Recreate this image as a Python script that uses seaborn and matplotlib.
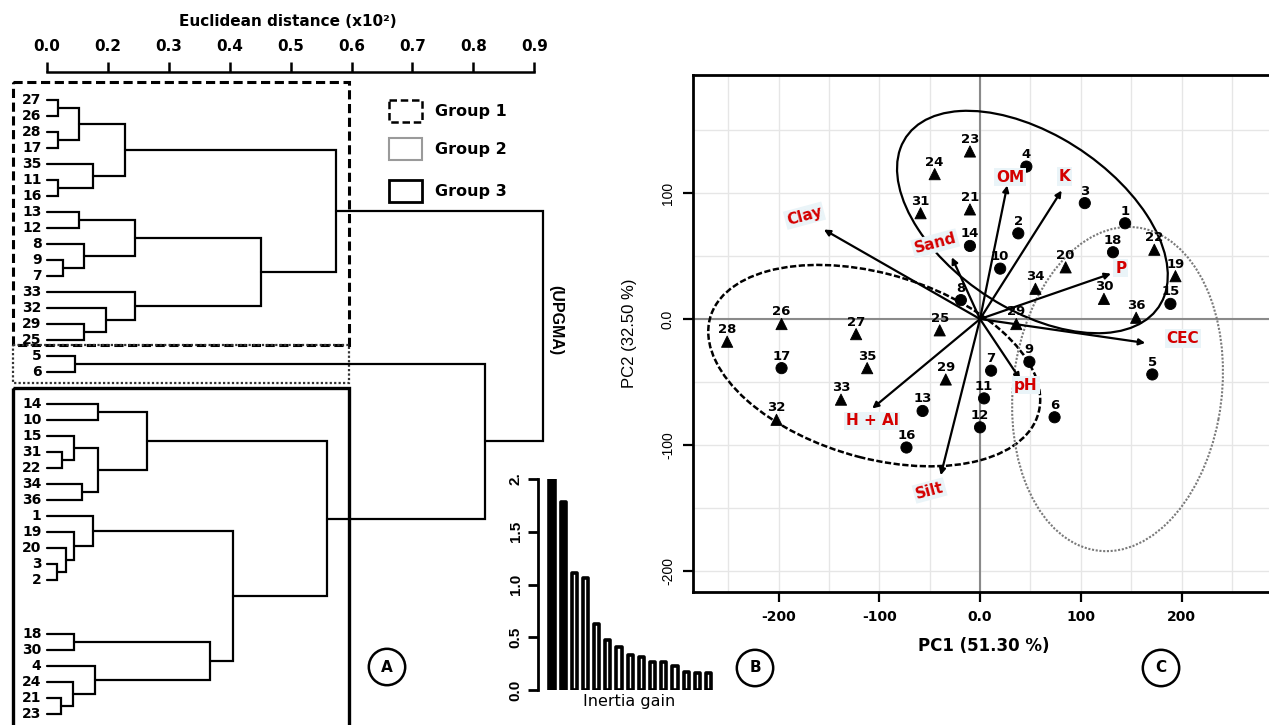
import numpy as np
import pandas as pd
import matplotlib
matplotlib.use("Agg")
import matplotlib.pyplot as plt
from matplotlib.patches import Rectangle, Ellipse
from matplotlib.ticker import MultipleLocator
import seaborn as sns

sns.set_theme(style="white")
plt.rcParams['font.family'] = ['DejaVu Sans']
for key in ['text.color', 'axes.labelcolor', 'xtick.color', 'ytick.color']:
    plt.rcParams[key] = 'black'
NARROW = 'Liberation Sans'   # rotated labels look narrower in the source figure

# ---------------- A: UPGMA dendrogram ----------------
leaf_order = ['27', '26', '28', '17', '35', '11', '16', '13', '12', '8', '9', '7',
              '33', '32', '29', '25',
              '5', '6',
              '14', '10', '15', '31', '22', '34', '36', '1', '19', '20', '3', '2',
              '18', '30', '4', '24', '21', '23']
# (node, child a, child b, height in axis-tick units)
merges = [
    ('m1', '27', '26', 0.18), ('m2', '28', '17', 0.18), ('m3', 'm1', 'm2', 0.53),
    ('m4', '11', '16', 0.18), ('m5', '35', 'm4', 0.75), ('m6', 'm3', 'm5', 1.28),
    ('m7', '13', '12', 0.53), ('m8', '9', '7', 0.26), ('m9', '8', 'm8', 0.61),
    ('m10', 'm7', 'm9', 1.44), ('m11', '29', '25', 0.60), ('m12', '32', 'm11', 0.97),
    ('m13', '33', 'm12', 1.44), ('m14', 'm10', 'm13', 3.51), ('g1', 'm6', 'm14', 4.75),
    ('g2', '5', '6', 0.46),
    ('m15', '14', '10', 0.84), ('m16', '31', '22', 0.24), ('m17', '15', 'm16', 0.45),
    ('m18', '34', '36', 0.57), ('m19', 'm17', 'm18', 0.83), ('m20', 'm15', 'm19', 1.65),
    ('m21', '3', '2', 0.16), ('m22', '20', 'm21', 0.32), ('m23', '19', 'm22', 0.44),
    ('m24', '1', 'm23', 0.75), ('m25', '18', '30', 0.45), ('m26', '21', '23', 0.23),
    ('m27', '24', 'm26', 0.42), ('m28', '4', 'm27', 0.79), ('m29', 'm25', 'm28', 2.68),
    ('m30', 'm24', 'm29', 3.05), ('g3', 'm20', 'm30', 4.60),
    ('g23', 'g2', 'g3', 7.19), ('root', 'g1', 'g23', 8.14),
]
dist_tick_labels = ['0.0', '0.2', '0.3', '0.4', '0.5', '0.6', '0.7', '0.8', '0.9']
group_names = ['Group 1', 'Group 2', 'Group 3']

# ---------------- B: inertia gain ----------------
inertia_gain = [2.0, 1.78, 1.11, 1.06, 0.63, 0.47, 0.41, 0.33, 0.31, 0.27,
                0.27, 0.23, 0.17, 0.16, 0.16]

# ---------------- C: PCA biplot ----------------
sample_id = ['23', '24', '31', '21', '14', '8', '26', '28', '27', '25', '17', '35',
             '29', '33', '13', '32', '16', '4', '3', '2', '1', '18', '22', '10',
             '20', '19', '34', '30', '15', '36', '29', '9', '7', '5', '11', '6', '12']
pc1 = [-10, -45, -59, -10, -10, -19, -197, -251, -123, -40, -197, -112,
       -34, -138, -57, -202, -73, 46, 104, 38, 144, 132, 173, 20,
       85, 194, 55, 123, 189, 155, 36, 49, 11, 171, 4, 74, 0]
pc2 = [133, 115, 84, 87, 58, 15, -4, -18, -12, -9, -39, -39,
       -48, -64, -73, -80, -102, 121, 92, 68, 76, 53, 55, 40,
       41, 34, 24, 16, 12, 1, -4, -34, -41, -44, -63, -78, -86]
sample_shape = ['tri', 'tri', 'tri', 'tri', 'circ', 'circ', 'tri', 'tri', 'tri', 'tri', 'circ', 'tri',
                'tri', 'tri', 'circ', 'tri', 'circ', 'circ', 'circ', 'circ', 'circ', 'circ', 'tri', 'circ',
                'tri', 'tri', 'tri', 'tri', 'circ', 'tri', 'tri', 'circ', 'circ', 'circ', 'circ', 'circ', 'circ']

variables = ['Clay', 'Sand', 'H + Al', 'Silt', 'OM', 'K', 'P', 'CEC', 'pH']
load_pc1 = [-155, -28, -107, -39, 27, 81, 130, 164, 40]
load_pc2 = [71, 49, -71, -124, 106, 102, 36, -19, -48]

# group ellipses: centre x, centre y, width, height, angle
ell_cx = [-105, 52, 136.5]
ell_cy = [-37, 77, -55.6]
ell_w = [335, 287, 260]
ell_h = [148, 145, 206]
ell_ang = [-11.6, -24, 76.5]

W, H = 1269, 725
fig = plt.figure(figsize=(W / 100, H / 100), dpi=100)


def px_axes(x0, y0, x1, y1):
    return fig.add_axes([x0 / W, 1 - y1 / H, (x1 - x0) / W, (y1 - y0) / H])


# ===== dendrogram =====
axd = px_axes(0, 72, 600, 725)
axd.patch.set_alpha(0)
axd.set_xlim(-47 / 60.9, 553 / 60.9)
axd.set_ylim(39.06, -1.75)

gap_after = {'6': 1.0, '2': 2.4}
pos = {}
s = 0.0
for leaf in leaf_order:
    pos[leaf] = (0.0, s)
    axd.text(-0.09, s, leaf, ha='right', va='center', fontsize=10, fontweight='bold')
    s += 1 + gap_after.get(leaf, 0)

for node, a, b, h in merges:
    xa, ya = pos[a]
    xb, yb = pos[b]
    axd.plot([xa, h, h, xb], [ya, ya, yb, yb], color='black', lw=1.6,
             solid_joinstyle='miter', clip_on=False)
    pos[node] = (h, (ya + yb) / 2)

for sp in ['left', 'right', 'bottom']:
    axd.spines[sp].set_visible(False)
axd.spines['top'].set_bounds(0, 8)
axd.spines['top'].set_linewidth(1.8)
axd.spines['top'].set_color('black')
axd.xaxis.tick_top()
axd.set_xticks(range(len(dist_tick_labels)))
axd.set_xticklabels(dist_tick_labels, fontsize=11, fontweight='bold')
axd.tick_params(axis='x', direction='out', length=7, width=1.8, pad=6, colors='black')
axd.set_yticks([])
axd.text(3.96, -4.9, 'Euclidean distance (x10²)', ha='center', va='center',
         fontsize=11, fontweight='bold')

# group boxes
box_style = [dict(ls=(0, (3, 1.5)), lw=2.2, ec='black'),
             dict(ls=(0, (1, 1)), lw=1.6, ec='#333333'),
             dict(ls='-', lw=2.4, ec='black')]
box_y = [(-1.125, 15.31), (15.31, 17.69), (18.0, 41.0)]
for (y0, y1), st in zip(box_y, box_style):
    axd.add_patch(Rectangle((-0.56, y0), 5.52, y1 - y0, fill=False, **st))

# legend
leg_style = [dict(ls=(0, (3, 1.5)), lw=1.8, ec='black'),
             dict(ls='-', lw=1.5, ec='#9a9a9a'),
             dict(ls='-', lw=2.0, ec='black')]
leg_y = [0.0, 2.4, 5.0]
for name, y0, st in zip(group_names, leg_y, leg_style):
    axd.add_patch(Rectangle((5.62, y0), 0.54, 1.37, fill=False, **st))
    axd.text(6.37, y0 + 0.69, name, ha='left', va='center', fontsize=11.5, fontweight='bold')

axd.text(8.36, 13.75, '(UPGMA)', rotation=270, ha='center', va='center',
         fontsize=11.5, fontweight='bold', family=NARROW)

# ===== inertia gain bars =====
axb = px_axes(538, 479, 720, 690)
axb.patch.set_alpha(0)
bar_rank = [str(i + 1) for i in range(len(inertia_gain))]
sns.barplot(x=bar_rank, y=inertia_gain, ax=axb, color='white', edgecolor='black',
            linewidth=2.6, width=0.46, saturation=1)
for i, p in enumerate(axb.patches):
    p.set_joinstyle('round')
    if i < 2:
        p.set_facecolor('black')
axb.set_xlim(-1.25, 15.03)
axb.set_ylim(0, 2.0)
for sp in ['top', 'right', 'bottom']:
    axb.spines[sp].set_visible(False)
axb.spines['left'].set_linewidth(2)
axb.spines['left'].set_color('black')
axb.spines['left'].set_bounds(0, 2)
axb.set_xticks([])
axb.set_yticks([0, 0.5, 1.0, 1.5, 2.0])
axb.set_yticklabels(['0.0', '0.5', '1.0', '1.5', '2.'], rotation=90, va='center',
                    fontsize=11, fontweight='bold', family=NARROW)
axb.tick_params(axis='y', direction='out', length=7, width=2, pad=4, left=True, colors='black')
axb.set_xlabel('Inertia gain', fontsize=11.5, labelpad=3)
axb.set_ylabel('')

# ===== PCA biplot =====
axp = px_axes(693, 75, 1275, 592)
axp.set_xlim(-284.9, 292.8)
axp.set_ylim(-216.7, 193.7)
axp.xaxis.set_minor_locator(MultipleLocator(50))
axp.yaxis.set_minor_locator(MultipleLocator(50))
axp.grid(which='both', color='#e6e6e6', lw=1)
axp.set_axisbelow(True)
axp.axhline(0, color='#8a8a8a', lw=1.5, zorder=1)
axp.axvline(0, color='#8a8a8a', lw=1.5, zorder=1)

ell_style = [dict(ls=(0, (2.5, 1)), lw=1.8, ec='black'),
             dict(ls='-', lw=1.6, ec='black'),
             dict(ls=(0, (1, 0.8)), lw=1.5, ec='#7a7a7a')]
for cx, cy, w, h, a, st in zip(ell_cx, ell_cy, ell_w, ell_h, ell_ang, ell_style):
    axp.add_patch(Ellipse((cx, cy), w, h, angle=a, fill=False, zorder=2, **st))

df = pd.DataFrame({'pc1': pc1, 'pc2': pc2, 'shape': sample_shape, 'id': sample_id})
sns.scatterplot(data=df, x='pc1', y='pc2', style='shape', markers={'tri': '^', 'circ': 'o'},
                color='black', edgecolor='black', s=65, legend=False, ax=axp, zorder=4)
for sid, x, y in zip(sample_id, pc1, pc2):
    axp.annotate(sid, (x, y), xytext=(0, 4), textcoords='offset points', ha='center',
                 va='bottom', fontsize=9.5, fontweight='bold', zorder=5)

label_offset = {'Clay': (-14, 10, 15), 'Sand': (-12, 10, 15), 'H + Al': (0, -9, 0),
                'Silt': (-8, -11, 15), 'OM': (2, 6, 0), 'K': (2, 10, 0),
                'P': (7, 4, 0), 'CEC': (27, 3, 0), 'pH': (4, -4, 0)}
for v, x, y in zip(variables, load_pc1, load_pc2):
    axp.annotate('', xy=(x, y), xytext=(0, 0),
                 arrowprops=dict(arrowstyle='-|>', color='black', lw=1.6,
                                 mutation_scale=9, shrinkA=0, shrinkB=0), zorder=3)
    dx, dy, rot = label_offset[v]
    axp.annotate(v, (x, y), xytext=(dx, dy), textcoords='offset points', ha='center',
                 va='center', color='#d40000', fontsize=11, fontweight='bold', rotation=rot,
                 bbox=dict(boxstyle='square,pad=0.12', fc='#eaf4f8', ec='none'), zorder=6)

axp.spines['right'].set_visible(False)
for sp in ['left', 'top', 'bottom']:
    axp.spines[sp].set_linewidth(2)
    axp.spines[sp].set_color('black')
axp.set_xticks([-200, -100, 0, 100, 200])
axp.set_xticklabels(['-200', '-100', '0.0', '100', '200'], fontsize=10, fontweight='bold')
axp.set_yticks([-200, -100, 0, 100])
axp.set_yticklabels(['-200', '-100', '0.0', '100'], rotation=90, va='center',
                    fontsize=10, family=NARROW)
axp.tick_params(which='major', direction='out', length=7, width=1.6, colors='black',
                bottom=True, left=True)
axp.tick_params(which='minor', length=0)
axp.tick_params(axis='x', pad=6)
axp.tick_params(axis='y', pad=6)
axp.set_xlabel('PC1 (51.30 %)', fontsize=12, fontweight='bold', labelpad=9)
axp.set_ylabel('PC2 (32.50 %)', fontsize=12, labelpad=17, family=NARROW)

# panel letters
for lab, x, y in [('A', 387, 667), ('B', 755, 668), ('C', 1161, 668)]:
    fig.text(x / W, 1 - y / H, lab, ha='center', va='center', fontsize=11, fontweight='bold',
             bbox=dict(boxstyle='circle,pad=0.7', fc='white', ec='black', lw=1.8))

fig.savefig('out.png', dpi=100)
